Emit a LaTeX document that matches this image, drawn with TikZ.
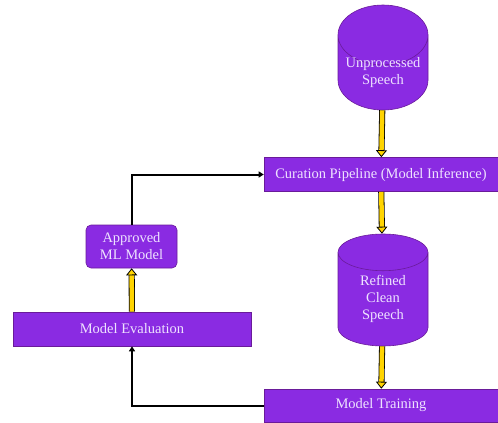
\documentclass[tikz,border=0pt]{standalone}
\usepackage{fontspec}
\setmainfont{Liberation Serif}
\usetikzlibrary{shapes.geometric,arrows.meta}
\definecolor{violetfill}{HTML}{8A2BE2}
\definecolor{violetline}{HTML}{6A1B9A}
\definecolor{paletext}{HTML}{EEE2FF}
\definecolor{gold}{HTML}{FFD400}

\begin{document}
\begin{tikzpicture}[x=1pt,y=-1pt]
    \tikzstyle{box}=[draw=violetline,fill=violetfill,text=paletext,line width=0.6pt,inner sep=0pt,font=\fontsize{14.5}{17}\selectfont,align=center]
    \tikzstyle{store}=[box,shape=cylinder,shape border rotate=90,aspect=0.8,inner ysep=-10pt,minimum width=90pt,minimum height=105pt,anchor=shape center]
    \tikzstyle{stage}=[box,shape=rectangle,minimum width=234pt,minimum height=34pt]
    \tikzstyle{feed} =[draw,line width=2pt,-{Triangle[length=5pt,width=6pt]}]
    \tikzstyle{flow} =[draw=black,line width=0.8pt,double=gold,double distance=4.5pt,-{Triangle[length=7pt,width=11pt,fill=gold,line width=0.8pt]}]

    \useasboundingbox (0,0) rectangle (498,423);

    \node[store] (1) at (383, 57.5) {Unprocessed\\Speech};
    \node[stage] (2) at (381, 174.5) {Curation Pipeline (Model Inference)};
    \node[store,minimum height=112pt] (3) at (383, 290) {Refined\\Clean\\Speech};
    \node[stage,minimum height=33pt] (4) at (381, 405.5) {Model Training};
    \node[stage,minimum width=238pt] (5) at (132, 329) {Model Evaluation};
    \node[box,rounded corners=5pt,minimum width=91pt,minimum height=43pt] (6) at (131.5, 246.5) {Approved\\ML Model};

    \path[flow] (1) -- (2);
    \path[flow] (2) -- (3);
    \path[flow] (3) -- (4);
    \path[flow] (5) -- (6);
    \path[feed] (4.west) -| (5.south);
    \path[feed] (6.north) |- (2.west);
\end{tikzpicture}
\end{document}
